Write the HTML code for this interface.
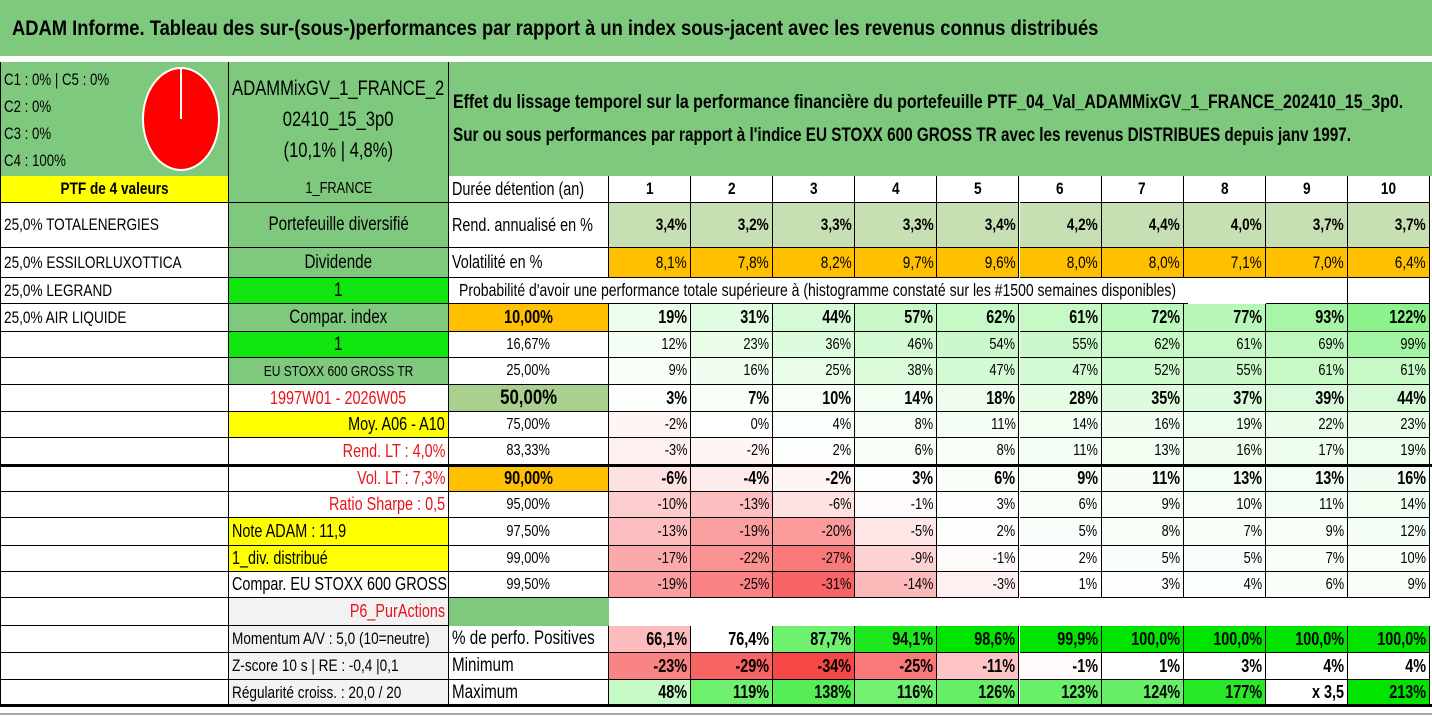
<!DOCTYPE html>
<html><head><meta charset="utf-8">
<style>
html,body{margin:0;padding:0;background:#fff;}
#root{position:relative;width:1432px;height:717px;overflow:hidden;font-family:"Liberation Sans",sans-serif;color:#000;}
.c{position:absolute;box-sizing:border-box;overflow:hidden;white-space:nowrap;display:flex;align-items:center;}
.c span{display:inline-block;transform:scaleX(0.8);}
.l{justify-content:flex-start;padding-left:3px}.l span{transform-origin:left center}
.r{justify-content:flex-end;padding-right:3px}.r span{transform-origin:right center}
.m{justify-content:center}.m span{transform-origin:center}
.bd{border-right:1px solid #000;border-bottom:1px solid #000;}
.hl{position:absolute;background:#000;}
</style></head>
<body>
<div id="root">
  <div class="c" style="left:0;top:0;width:1432px;height:56px;background:#7fc97f;"></div>
  <div id="title" style="position:absolute;left:12px;top:17px;font-weight:bold;font-size:21px;white-space:nowrap;transform-origin:left top;">ADAM Informe. Tableau des sur-(sous-)performances par rapport à un index sous-jacent avec les revenus connus distribués</div>
  <div class="c" style="left:0;top:62px;width:229px;height:114px;background:#7fc97f;border-left:1px solid #000;border-right:1px solid #000;"></div>
  <div style="position:absolute;left:4px;top:66px;font-size:17px;line-height:27px;">
    <div><span style="display:inline-block;transform:scaleX(0.78);transform-origin:left">C1 : 0% | C5 : 0%</span></div>
    <div><span style="display:inline-block;transform:scaleX(0.78);transform-origin:left">C2 : 0%</span></div>
    <div><span style="display:inline-block;transform:scaleX(0.78);transform-origin:left">C3 : 0%</span></div>
    <div><span style="display:inline-block;transform:scaleX(0.78);transform-origin:left">C4 : 100%</span></div>
  </div>
  <svg style="position:absolute;left:140px;top:64px" width="84" height="110">
    <ellipse cx="41" cy="55" rx="38" ry="51" fill="#ff0000" stroke="#fff" stroke-width="2"/>
    <line x1="41" y1="55" x2="41" y2="4" stroke="#fff" stroke-width="2"/>
  </svg>
  <div class="c" style="left:229px;top:62px;width:220px;height:114px;background:#7fc97f;border-right:1px solid #000;flex-direction:column;justify-content:center;font-size:21px;line-height:31px;">
    <span style="transform:scaleX(0.79)">ADAMMixGV_1_FRANCE_2</span><span style="transform:scaleX(0.79)">02410_15_3p0</span><span style="transform:scaleX(0.79)">(10,1% | 4,8%)</span>
  </div>
  <div class="c" style="left:449px;top:62px;width:983px;height:114px;background:#7fc97f;"></div>
  <div id="h1" style="position:absolute;left:453px;top:92px;font-size:19px;font-weight:bold;white-space:nowrap;transform-origin:left top;">Effet du lissage temporel sur la performance financière du portefeuille PTF_04_Val_ADAMMixGV_1_FRANCE_202410_15_3p0.</div>
  <div id="h2" style="position:absolute;left:453px;top:125px;font-size:19px;font-weight:bold;white-space:nowrap;transform-origin:left top;">Sur ou sous performances par rapport à l'indice EU STOXX 600 GROSS TR avec les revenus DISTRIBUES depuis janv 1997.</div>
</div>
<script>
const years = [1,2,3,4,5,6,7,8,9,10];
const rendValues = [3.4,3.2,3.3,3.3,3.4,4.2,4.4,4.0,3.7,3.7];
const volValues = [8.1,7.8,8.2,9.7,9.6,8.0,8.0,7.1,7.0,6.4];
const percentileLabels = ["10,00%","16,67%","25,00%","50,00%","75,00%","83,33%","90,00%","95,00%","97,50%","99,00%","99,50%"];
const p10 = [19,31,44,57,62,61,72,77,93,122];
const p16 = [12,23,36,46,54,55,62,61,69,99];
const p25 = [9,16,25,38,47,47,52,55,61,61];
const p50 = [3,7,10,14,18,28,35,37,39,44];
const p75 = [-2,0,4,8,11,14,16,19,22,23];
const p83 = [-3,-2,2,6,8,11,13,16,17,19];
const p90 = [-6,-4,-2,3,6,9,11,13,13,16];
const p95 = [-10,-13,-6,-1,3,6,9,10,11,14];
const p975 = [-13,-19,-20,-5,2,5,8,7,9,12];
const p99 = [-17,-22,-27,-9,-1,2,5,5,7,10];
const p995 = [-19,-25,-31,-14,-3,1,3,4,6,9];
const positiveValues = [66.1,76.4,87.7,94.1,98.6,99.9,100,100,100,100];
const minValues = [-23,-29,-34,-25,-11,-1,1,3,4,4];
const maxValues = [48,119,138,116,126,123,124,177,350,213];

const root = document.getElementById('root');
const colX = i => 609 + i*82.1;
const colW = 82.1;
function fmt(v,d){return v.toFixed(d).replace('.',',');}
function mix(c1,c2,t){t=Math.max(0,Math.min(1,t));return 'rgb('+c1.map((a,i)=>Math.round(a+(c2[i]-a)*t)).join(',')+')';}
const W=[255,255,255], RED=[248,90,92], GRN=[100,238,100], BGRN=[0,228,0];
function heat(v){return v<0?mix(W,RED,-v/33):mix(W,GRN,v/165);}
function cell(x,y,w,h,o){
  const d=document.createElement('div');
  d.className='c '+(o.al||'m')+(o.nb?'':' bd');
  d.style.cssText=`left:${x}px;top:${y}px;width:${w}px;height:${h}px;background:${o.bg||'#fff'};font-size:${o.fs||14}px;font-weight:${o.b?'bold':'normal'};color:${o.col||'#000'};`+(o.css||'');
  if(o.t!==undefined){const s=document.createElement('span');s.textContent=o.t;if(o.sx)s.style.transform='scaleX('+o.sx+')';d.appendChild(s);}
  root.appendChild(d);return d;
}
const rowsY=[176,203,248,278,304,332,358,385,412,438,465,492,518,546,572,598,626,653,680,706];
function rh(i){return rowsY[i+1]-rowsY[i];}
// Column A
const colA=["PTF de 4 valeurs","25,0% TOTALENERGIES","25,0% ESSILORLUXOTTICA","25,0% LEGRAND","25,0% AIR LIQUIDE"];
for(let i=0;i<19;i++){
  const d=cell(0,rowsY[i],229,rh(i),{t:colA[i]||'',al:i==0?'m':'l',bg:i==0?'#ffff00':'#fff',fs:17,b:i==0,css:'border-left:1px solid #000;'});
  
  
}
// Column B
const G='#7fc97f',Y='#ffff00',BG='#11e611',GR='#f2f2f2',RC='#e8141c';
const colB=[
 {t:'1_FRANCE',bg:G,fs:16},{t:'Portefeuille diversifié',bg:G,fs:19},{t:'Dividende',bg:G,fs:19},{t:'1',bg:BG,fs:19},
 {t:'Compar. index',bg:G,fs:19},{t:'1',bg:BG,fs:19},{t:'EU STOXX 600 GROSS TR',bg:G,fs:15},
 {t:'1997W01 - 2026W05',col:RC,fs:18},{t:'Moy. A06 - A10',bg:Y,al:'r',fs:18},{t:'Rend. LT : 4,0%',col:RC,al:'r',fs:18},
 {t:'Vol. LT : 7,3%',col:RC,al:'r',fs:18},{t:'Ratio Sharpe : 0,5',col:RC,al:'r',fs:18},{t:'Note ADAM : 11,9',bg:Y,al:'l',fs:18},
 {t:'1_div. distribué',bg:Y,al:'l',fs:18},{t:'Compar. EU STOXX 600 GROSS TR',al:'l',fs:18},{t:'P6_PurActions',bg:GR,col:RC,al:'r',fs:18},
 {t:'Momentum A/V : 5,0 (10=neutre)',bg:GR,al:'l',fs:17},{t:'Z-score 10 s | RE : -0,4 |0,1',bg:GR,al:'l',fs:17},{t:'Régularité croiss. : 20,0 / 20',bg:GR,al:'l',fs:17}];
colB.forEach((o,i)=>{const d=cell(229,rowsY[i],220,rh(i),o);
  
  });
// Column C labels
const colC=[{t:'Durée détention (an)',al:'l',fs:18},{t:'Rend. annualisé en %',al:'l',fs:18},{t:'Volatilité en %',al:'l',fs:18}];
colC.forEach((o,i)=>{const d=cell(449,rowsY[i],160,rh(i),o);
  
  });
years.forEach((y,i)=>{
  let d=cell(colX(i),rowsY[0],colW,rh(0),{t:String(y),b:1,fs:17});
  
  
  d=cell(colX(i),rowsY[1],colW,rh(1),{t:fmt(rendValues[i],1)+'%',b:1,al:'r',bg:'#c6e0b4',fs:17});
  
  
  d=cell(colX(i),rowsY[2],colW,rh(2),{t:fmt(volValues[i],1)+'%',al:'r',bg:'#ffc000',fs:17});
  
  
});
// probability header row
[8,9].forEach(i=>{const d=cell(colX(i),rowsY[3],colW,rh(3),{t:''});
  
  });
let pd=cell(449,rowsY[3],738.8,rh(3),{t:"Probabilité d'avoir une performance totale supérieure à (histogramme constaté sur les #1500 semaines disponibles)",al:'l',fs:17.5,nb:1,css:'padding-left:10px;border-bottom:1px solid #000;overflow:visible;background:transparent;'});


const matrix=[p10,p16,p25,p50,p75,p83,p90,p95,p975,p99,p995];
const boldRows=[0,3,6];
matrix.forEach((row,r)=>{
  const y=rowsY[4+r],h=rh(4+r),b=boldRows.includes(r);
  const lbg=(r==0||r==6)?'#ffc000':(r==3?'#a9d08e':'#fff');
  let d=cell(449,y,160,h,{t:percentileLabels[r],b:b,fs:r==3?21:(b?18:16),bg:lbg,al:'m'});
  
  
  row.forEach((v,i)=>{
    const c=cell(colX(i),y,colW,h,{t:v+'%',b:b,al:'r',fs:b?18:16,bg:heat(v)});
    
    
  });
});
// P6 row
let p6=cell(449,rowsY[15],160,rh(15),{t:'',bg:G,nb:1});


// bottom rows
const botLabels=['% de perfo. Positives','Minimum','Maximum'];
botLabels.forEach((t,k)=>{const d=cell(449,rowsY[16+k],160,rh(16+k),{t:t,al:'l',fs:19});
  
  });
function posColor(v){return v<76.4?mix(W,RED,(76.4-v)/25):mix(W,BGRN,(v-76.4)/20);}
positiveValues.forEach((v,i)=>{const d=cell(colX(i),rowsY[16],colW,rh(16),{t:fmt(v,1)+'%',b:1,al:'r',fs:18,bg:posColor(v)});
  
  });
minValues.forEach((v,i)=>{const d=cell(colX(i),rowsY[17],colW,rh(17),{t:v+'%',b:1,al:'r',fs:18,bg:v<0?mix(W,[247,72,72],-v/34):'#fff'});
  
  });
maxValues.forEach((v,i)=>{const big=v>=300;const d=cell(colX(i),rowsY[18],colW,rh(18),{t:big?'x '+fmt(v/100,1):v+'%',b:1,al:'r',fs:18,bg:big?'#fff':mix(W,BGRN,v/210)});
  
  });
// thick lines
[[465,3],[705,3]].forEach(([y,t])=>{const l=document.createElement('div');l.className='hl';l.style.cssText=`left:0;top:${y-1}px;width:1432px;height:${t}px;`;
  
  
  root.appendChild(l);});
const bl=document.createElement('div');bl.className='hl';bl.style.cssText='left:0;top:713px;width:1432px;height:2px;background:#aaa;';


root.appendChild(bl);
// fit header texts
function fit(id,w){const e=document.getElementById(id);const sw=e.scrollWidth;e.style.transform='scaleX('+(w/sw)+')';}
fit('title',1086);fit('h1',950);fit('h2',898);
</script>
</body></html>
